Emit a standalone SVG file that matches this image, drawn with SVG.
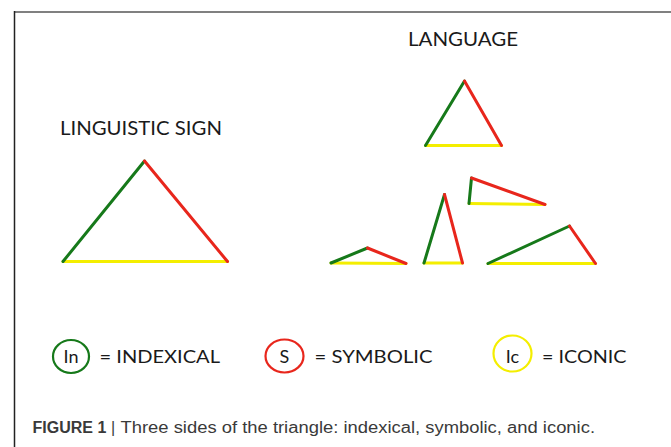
<svg xmlns="http://www.w3.org/2000/svg" width="671" height="447" viewBox="0 0 671 447">
<style>
.g{stroke:#16791a;stroke-width:3;stroke-linecap:round;fill:none}
.r{stroke:#e8261c;stroke-width:3;stroke-linecap:round;fill:none}
.y{stroke:#f4ee00;stroke-width:3;stroke-linecap:round;fill:none}
.t{font-family:Lato,"Liberation Sans",sans-serif;fill:#1a1a1a}
.cap{font-family:"Liberation Sans",Arial,sans-serif;font-size:16px;fill:#3a3a3a}
</style>
<rect width="671" height="447" fill="#ffffff"/>
<g id="frame">
<line x1="14" y1="12" x2="671" y2="12" stroke="#808080" stroke-width="2"/>
<line x1="14.5" y1="11" x2="14.5" y2="447" stroke="#222" stroke-width="1.5"/>
</g>
<g id="title-language"><text class="t" x="408" y="46" font-size="19.5" textLength="110" lengthAdjust="spacingAndGlyphs">LANGUAGE</text></g>
<g id="title-sign"><text class="t" x="60" y="135" font-size="19" textLength="162" lengthAdjust="spacingAndGlyphs">LINGUISTIC SIGN</text></g>
<g id="sign-triangle">
<line class="y" x1="63" y1="261.5" x2="227.5" y2="261.5"/>
<line class="g" x1="63" y1="261.5" x2="144.5" y2="161"/>
<line class="r" x1="144.5" y1="161" x2="227.5" y2="261.5"/>
</g>
<g id="lang-top">
<line class="y" x1="425.5" y1="145.5" x2="501.5" y2="145.5"/>
<line class="g" x1="425.5" y1="145.5" x2="464.5" y2="81"/>
<line class="r" x1="464.5" y1="81" x2="501.5" y2="145.5"/>
</g>
<g id="lang-right-angle">
<line class="y" x1="469" y1="203.5" x2="545" y2="204.5"/>
<line class="g" x1="469" y1="203.5" x2="471.5" y2="178"/>
<line class="r" x1="471.5" y1="178" x2="545" y2="204.5"/>
</g>
<g id="lang-flat">
<line class="y" x1="331" y1="263" x2="406" y2="263.5"/>
<line class="g" x1="331" y1="263" x2="367.5" y2="248"/>
<line class="r" x1="367.5" y1="248" x2="406" y2="263.5"/>
</g>
<g id="lang-tall">
<line class="y" x1="424" y1="263" x2="462.5" y2="263"/>
<line class="g" x1="424" y1="263" x2="444.5" y2="194.5"/>
<line class="r" x1="444.5" y1="194.5" x2="462.5" y2="263"/>
</g>
<g id="lang-wide">
<line class="y" x1="488" y1="263.5" x2="595.5" y2="263.5"/>
<line class="g" x1="488" y1="263.5" x2="569.5" y2="226"/>
<line class="r" x1="569.5" y1="226" x2="595.5" y2="263.5"/>
</g>
<g id="legend-indexical">
<ellipse cx="71" cy="356.5" rx="18" ry="16.5" fill="none" stroke="#16791a" stroke-width="2.2"/>
<text class="t" x="71" y="363" font-size="18" text-anchor="middle">In</text>
<text class="t" x="99.5" y="363" font-size="18" textLength="120.5" lengthAdjust="spacingAndGlyphs">= INDEXICAL</text>
</g>
<g id="legend-symbolic">
<ellipse cx="284.5" cy="356" rx="19" ry="16.5" fill="none" stroke="#e8261c" stroke-width="2.2"/>
<text class="t" x="284.5" y="363" font-size="18" text-anchor="middle">S</text>
<text class="t" x="314.5" y="363" font-size="18" textLength="118" lengthAdjust="spacingAndGlyphs">= SYMBOLIC</text>
</g>
<g id="legend-iconic">
<ellipse cx="512.5" cy="353.5" rx="19" ry="18" fill="none" stroke="#f4ee00" stroke-width="2.2"/>
<text class="t" x="512.5" y="363" font-size="18" text-anchor="middle">Ic</text>
<text class="t" x="542" y="363" font-size="18" textLength="84.5" lengthAdjust="spacingAndGlyphs">= ICONIC</text>
</g>
<g id="caption">
<text class="cap" x="32.5" y="433" font-weight="bold" fill="#2a2a2a">FIGURE 1</text>
<text class="cap" x="111" y="433" fill="#2a2a2a">|</text>
<text class="cap" x="120.5" y="433" textLength="474.5" lengthAdjust="spacingAndGlyphs">Three sides of the triangle: indexical, symbolic, and iconic.</text>
</g>
</svg>
